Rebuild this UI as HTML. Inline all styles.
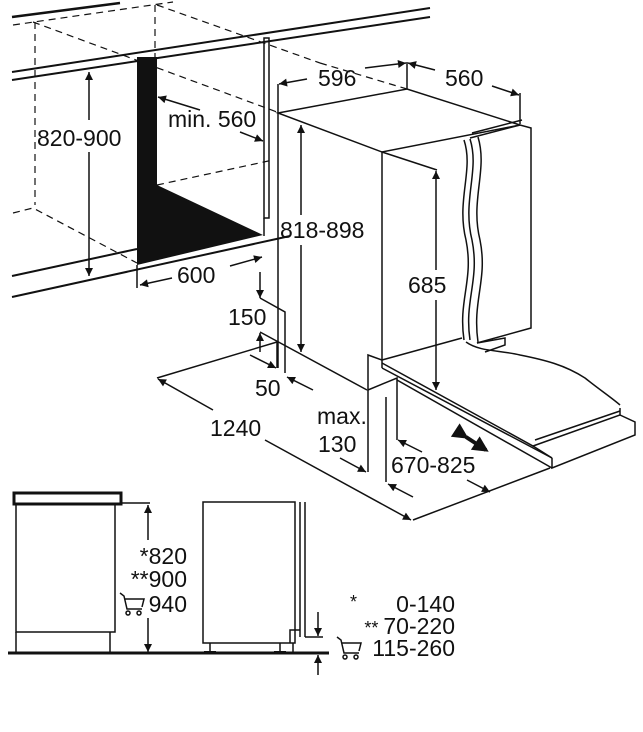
<!DOCTYPE html>
<html><head><meta charset="utf-8"><style>
html,body{margin:0;padding:0;background:#fff;}
svg{display:block;}
text{font-family:"Liberation Sans",sans-serif;font-size:23px;fill:#111;}
</style></head><body>
<svg width="643" height="732" viewBox="0 0 643 732" xmlns="http://www.w3.org/2000/svg">
<defs>
<marker id="a" viewBox="0 0 10 10" refX="10" refY="5" markerWidth="13" markerHeight="8" orient="auto" markerUnits="userSpaceOnUse"><path d="M0,0L10,5L0,10z" fill="#111"/></marker>
<marker id="b" viewBox="0 0 10 10" refX="8" refY="5" markerWidth="18" markerHeight="16" orient="auto" markerUnits="userSpaceOnUse"><path d="M0,0L10,5L0,10z" fill="#111"/></marker>
</defs>
<g stroke="#111" fill="none" stroke-width="2">
<line x1="12" y1="72" x2="430" y2="8"/>
<line x1="12" y1="80" x2="430" y2="17"/>
<line x1="12" y1="17" x2="120" y2="3" stroke-width="2.5"/>
<line x1="12" y1="276" x2="137" y2="249"/>
<line x1="12" y1="297" x2="290" y2="236"/>
</g>
<g stroke="#111" fill="none" stroke-width="1.2" stroke-dasharray="7,5">
<line x1="13" y1="25" x2="173" y2="2"/>
<line x1="35" y1="22" x2="35" y2="205"/>
<line x1="155" y1="5" x2="155" y2="65"/>
<line x1="33" y1="22" x2="277" y2="112"/>
<line x1="157" y1="5" x2="320" y2="63"/>
<polyline points="13,213 33,208 137,263"/>
<line x1="157" y1="185" x2="273" y2="160"/>
<line x1="320" y1="63" x2="407" y2="89"/>
</g>
<polygon points="137,57 157,57 157,185 263,235 137,265" fill="#111"/>
<g stroke="#111" fill="none" stroke-width="1.5">
<rect x="264" y="38" width="5" height="180"/>
<line x1="264" y1="218" x2="264" y2="236"/>
<line x1="137" y1="265" x2="137" y2="288"/>
<path d="M89,120 V72" marker-end="url(#a)"/>
<path d="M89,152 V276" marker-end="url(#a)"/>
<path d="M200,110 L158,97" marker-end="url(#a)"/>
<path d="M240,132 L263,141" marker-end="url(#a)"/>
<path d="M172,278 L140,285" marker-end="url(#a)"/>
<path d="M230,266 L262,257" marker-end="url(#a)"/>
<polygon points="278,113 407,89 520,125 382,152"/>
<line x1="278" y1="113" x2="278" y2="368"/>
<line x1="382" y1="152" x2="382" y2="360"/>
<polyline points="470,138 520,125 531,128 531,328 477,343"/>
<line x1="472" y1="133" x2="522" y2="120"/>
<path d="M464,140 C474,170 456,200 466,240 C474,280 458,300 464,340"/>
<path d="M470,139 C480,170 462,200 472,240 C480,280 464,300 470,340"/>
<path d="M478,137 C488,170 470,200 480,240 C488,280 472,300 478,342"/>
<line x1="382" y1="360" x2="462" y2="338"/>
<polyline points="477,343 505,338 505,345 485,352"/>
<path d="M466,342 C480,352 500,350 520,355 C545,360 565,365 585,378 C600,390 612,398 620,405"/>
<polyline points="382,363 533,446 620,415 620,408"/>
<polyline points="535,440 620,411"/>
<polyline points="620,415 635,422 635,435 552,468 552,458"/>
<line x1="533" y1="446" x2="552" y2="458"/>
<line x1="382" y1="360" x2="382" y2="368"/>
<line x1="382" y1="368" x2="552" y2="458"/>
<line x1="397" y1="380" x2="552" y2="468"/>
<polyline points="382,360 368,355 368,390 397,378 397,440"/>
<line x1="368" y1="390" x2="368" y2="472"/>
<line x1="386" y1="397" x2="386" y2="482"/>
<line x1="278" y1="84" x2="278" y2="113"/>
<line x1="407" y1="62" x2="407" y2="89"/>
<line x1="520" y1="93" x2="520" y2="124"/>
<path d="M307,79 L279,84" marker-end="url(#a)"/>
<path d="M365,68 L406,63" marker-end="url(#a)"/>
<path d="M435,70 L408,63" marker-end="url(#a)"/>
<path d="M492,86 L519,95" marker-end="url(#a)"/>
<path d="M301,215 V125" marker-end="url(#a)"/>
<path d="M301,245 V352" marker-end="url(#a)"/>
<line x1="382" y1="152" x2="437" y2="170"/>
<path d="M436,270 V171" marker-end="url(#a)"/>
<path d="M436,300 V390" marker-end="url(#a)"/>
<polyline points="260,298 285,312 285,373"/>
<line x1="260" y1="332" x2="367" y2="390"/>
<path d="M260,272 V298" marker-end="url(#a)"/>
<path d="M260,352 V333" marker-end="url(#a)"/>
<line x1="277" y1="342" x2="277" y2="368"/>
<path d="M250,355 L276,368" marker-end="url(#a)"/>
<path d="M313,390 L287,377" marker-end="url(#a)"/>
<line x1="157" y1="378" x2="277" y2="342"/>
<path d="M213,410 L158,379" marker-end="url(#a)"/>
<path d="M265,440 L411,520" marker-end="url(#a)"/>
<line x1="413" y1="520" x2="550" y2="468"/>
<path d="M340,458 L366,472" marker-end="url(#a)"/>
<path d="M413,497 L388,484" marker-end="url(#a)"/>
<path d="M422,452 L398,440" marker-end="url(#a)"/>
<path d="M467,480 L490,492" marker-end="url(#a)"/>
</g>
<g stroke="#111" stroke-width="4" fill="none">
<path d="M466,437 L486,450" marker-start="url(#b)" marker-end="url(#b)"/>
</g>
<text x="37" y="146">820-900</text>
<text x="168" y="127">min. 560</text>
<text x="177" y="283">600</text>
<text x="280" y="238">818-898</text>
<text x="318" y="86">596</text>
<text x="445" y="86">560</text>
<text x="408" y="293">685</text>
<text x="228" y="325">150</text>
<text x="255" y="396">50</text>
<text x="210" y="436">1240</text>
<text x="317" y="424">max.</text>
<text x="318" y="452">130</text>
<text x="391" y="473">670-825</text>
<g stroke="#111" fill="none" stroke-width="1.5">
<rect x="14" y="493" width="107" height="11" stroke-width="3"/>
<rect x="16" y="504" width="99" height="128"/>
<line x1="16" y1="632" x2="16" y2="653"/>
<line x1="110" y1="632" x2="110" y2="653"/>
<line x1="122" y1="503" x2="150" y2="503"/>
<path d="M148,540 V505" marker-end="url(#a)"/>
<path d="M148,618 V652" marker-end="url(#a)"/>
<rect x="203" y="502" width="92" height="141"/>
<line x1="300" y1="502" x2="300" y2="637"/>
<line x1="305" y1="502" x2="305" y2="637"/>
<polyline points="290,643 290,630 300,630"/>
<line x1="293" y1="643" x2="293" y2="653"/>
<line x1="210" y1="643" x2="210" y2="653"/>
<line x1="280" y1="643" x2="280" y2="653"/>
<line x1="305" y1="637" x2="323" y2="637"/>
<path d="M318,612 V636" marker-end="url(#a)"/>
<path d="M318,675 V655" marker-end="url(#a)"/>
</g>
<line x1="8" y1="653" x2="329" y2="653" stroke="#111" stroke-width="3"/>
<rect x="204" y="651" width="12" height="3" fill="#111"/>
<rect x="274" y="651" width="12" height="3" fill="#111"/>
<text x="187" y="564" text-anchor="end">*820</text>
<text x="187" y="587" text-anchor="end">**900</text>
<text x="187" y="612" text-anchor="end">940</text>
<text x="350" y="608" style="font-size:18px">*</text>
<text x="455" y="612" text-anchor="end">0-140</text>
<text x="455" y="634" text-anchor="end"><tspan style="font-size:18px">** </tspan>70-220</text>
<text x="455" y="656" text-anchor="end">115-260</text>
<g stroke="#111" fill="none" stroke-width="1.5">
<path d="M120,593 L124,596 L127,609 L142,609 M125,599 L144,599 L142,607"/>
<circle cx="128" cy="613" r="2"/><circle cx="139" cy="613" r="2"/>
<path d="M337,637 L341,640 L344,653 L359,653 M342,643 L361,643 L359,651"/>
<circle cx="345" cy="657" r="2"/><circle cx="356" cy="657" r="2"/>
</g>
</svg>
</body></html>
